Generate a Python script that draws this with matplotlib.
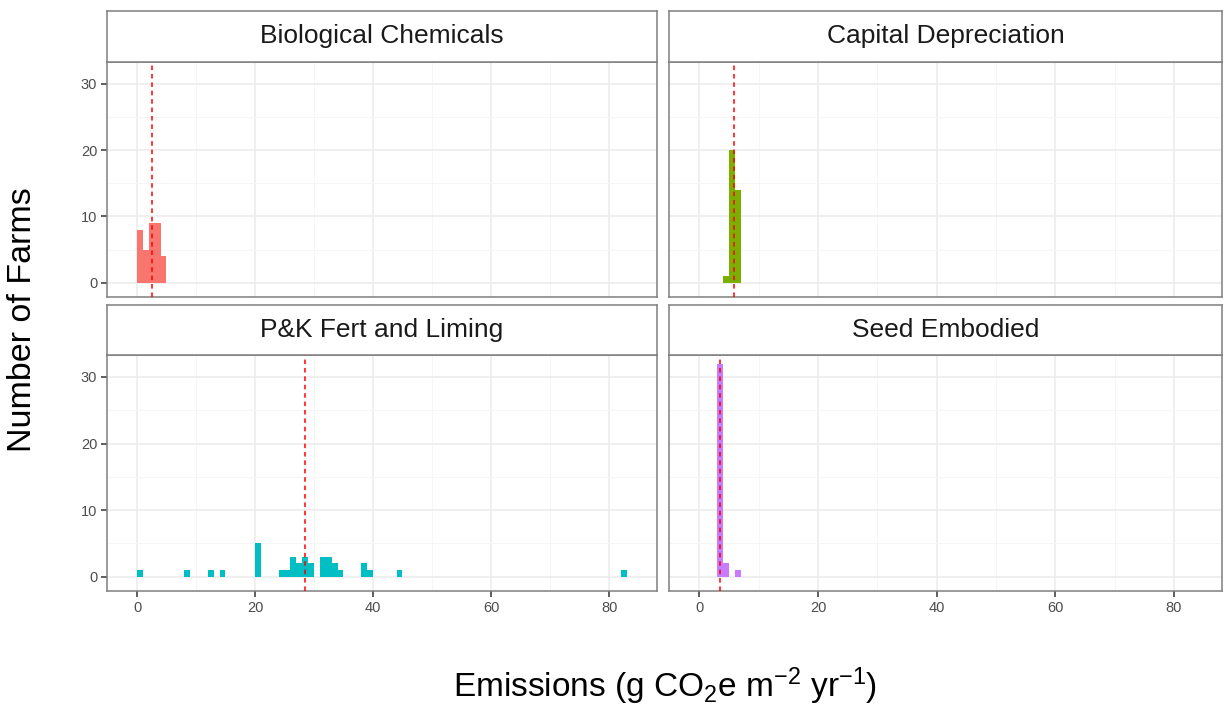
import matplotlib
matplotlib.use("Agg")
import matplotlib.pyplot as plt
import numpy as np

plt.rcParams['font.family'] = ['Liberation Sans', 'DejaVu Sans']
plt.rcParams['mathtext.fontset'] = 'custom'
plt.rcParams['mathtext.rm'] = 'Liberation Sans'
plt.rcParams['mathtext.it'] = 'Liberation Sans'

panels = ["Biological Chemicals", "Capital Depreciation", "P&K Fert and Liming", "Seed Embodied"]
colors = ["#F8766D", "#7CAE00", "#00BFC4", "#C77CFF"]

bio_bins = [0, 1, 2, 3, 4]
bio_counts = [8, 5, 9, 9, 4]
cap_bins = [4, 5, 6]
cap_counts = [1, 20, 14]
pk_bins = [0, 8, 12, 14, 20, 24, 25, 26, 27, 28, 29, 31, 32, 33, 34, 38, 39, 44, 82]
pk_counts = [1, 1, 1, 1, 5, 1, 1, 3, 2, 3, 2, 3, 3, 2, 1, 2, 1, 1, 1]
seed_bins = [3, 4, 6]
seed_counts = [32, 2, 1]
means = [2.5, 5.9, 28.4, 3.55]

bins_list = [bio_bins, cap_bins, pk_bins, seed_bins]
counts_list = [bio_counts, cap_counts, pk_counts, seed_counts]
binwidth = 1.0
bin_offset = -0.05

x_ticks = [0, 20, 40, 60, 80]
y_ticks = [0, 10, 20, 30]

W, H = 1225, 706
fig = plt.figure(figsize=(W / 100, H / 100), dpi=100)

def px(x0, y0, x1, y1):
    return [x0 / W, 1 - y1 / H, (x1 - x0) / W, (y1 - y0) / H]

cols = [(107, 657), (669, 1222)]
rows = [(11, 62, 297), (305, 355, 591)]
border = "#7F7F7F"

for i, name in enumerate(panels):
    r, c = divmod(i, 2)
    x0, x1 = cols[c]
    st, sb, pb = rows[r]
    ax = fig.add_axes(px(x0, sb, x1, pb))
    ax.set_xlim(-5.13, 88.1)
    ax.set_ylim(-2.15, 33.3)
    ax.set_xticks(x_ticks)
    ax.set_yticks(y_ticks)
    ax.set_xticks([10, 30, 50, 70], minor=True)
    ax.set_yticks([5, 15, 25], minor=True)
    ax.grid(which='major', color='#EBEBEB', linewidth=1.1)
    ax.grid(which='minor', color='#F5F5F5', linewidth=0.6)
    ax.set_axisbelow(True)
    for s in ax.spines.values():
        s.set_color(border)
        s.set_linewidth(1.1)
    ax.tick_params(which='minor', length=0)
    ax.tick_params(which='major', length=4, width=1.1, color='#333333',
                   labelsize=10.5, labelcolor='#4D4D4D', pad=3)
    if r == 0:
        ax.tick_params(axis='x', which='major', length=0, labelbottom=False)
    if c == 1:
        ax.tick_params(axis='y', which='major', length=0, labelleft=False)
    b = np.array(bins_list[i]) + bin_offset
    ax.bar(b, counts_list[i], width=binwidth, align='edge', color=colors[i],
           linewidth=0, zorder=2)
    ax.axvline(means[i], color='red', linestyle=(0, (3, 2.5)), linewidth=1.1, zorder=3)

    sax = fig.add_axes(px(x0, st, x1, sb))
    sax.set_xticks([])
    sax.set_yticks([])
    sax.set_facecolor('white')
    for s in sax.spines.values():
        s.set_color(border)
        s.set_linewidth(1.1)
    sax.text(0.5, 0.5, name, ha='center', va='center', fontsize=19,
             color='#1A1A1A', transform=sax.transAxes)

fig.text(23 / W, 1 - 320 / H, "Number of Farms", rotation=90, ha='center', va='center',
         fontsize=24.5, color='black')
fig.text(665 / W, 1 - 686 / H, r"Emissions (g CO$_2$e m$^{-2}$ yr$^{-1}$)", ha='center',
         va='center', fontsize=24, color='black')

fig.savefig("out.png", dpi=100)
